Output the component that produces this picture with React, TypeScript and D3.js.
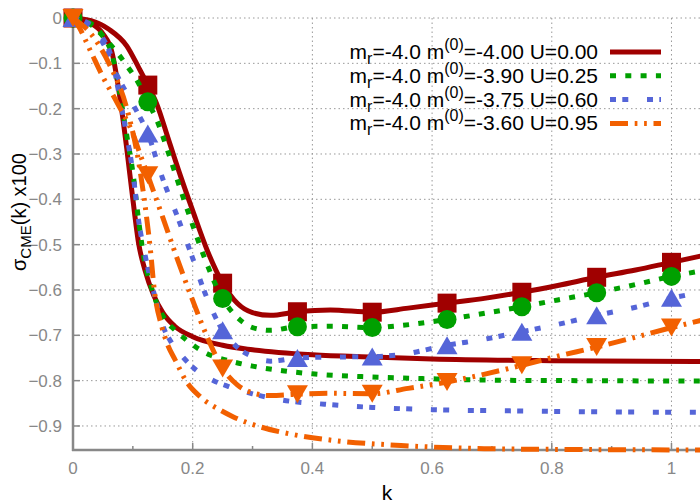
import React, { useRef, useEffect } from "react";
import * as d3 from "d3";

// marker positions (k) and values of sigma_CME x100
const markerK = [0, 0.125, 0.25, 0.375, 0.5, 0.625, 0.75, 0.875, 1.0];
const redMarks = [0, -0.148, -0.585, -0.648, -0.649, -0.629, -0.605, -0.572, -0.539];
const greenMarks = [0, -0.185, -0.619, -0.681, -0.683, -0.665, -0.637, -0.606, -0.57];
const blueMarks = [0, -0.255, -0.689, -0.75, -0.747, -0.722, -0.692, -0.656, -0.617];
const orangeMarks = [0, -0.347, -0.773, -0.83, -0.829, -0.803, -0.766, -0.726, -0.683];

// curves: [k, value]
const redUpper = [[0, 0], [0.03, -0.006], [0.06, -0.025], [0.09, -0.062], [0.11, -0.11], [0.125, -0.148], [0.14, -0.19], [0.16, -0.27], [0.18, -0.35], [0.2, -0.425], [0.225, -0.515], [0.25, -0.585], [0.275, -0.63], [0.3, -0.65], [0.33, -0.656], [0.375, -0.648], [0.43, -0.644], [0.5, -0.649], [0.56, -0.64], [0.625, -0.629], [0.69, -0.618], [0.75, -0.605], [0.81, -0.59], [0.875, -0.572], [0.94, -0.556], [1.0, -0.539], [1.05, -0.525]];
const redLower = [[0, 0], [0.03, -0.012], [0.05, -0.035], [0.065, -0.075], [0.08, -0.19], [0.09, -0.29], [0.1, -0.4], [0.11, -0.5], [0.12, -0.555], [0.135, -0.612], [0.15, -0.65], [0.17, -0.68], [0.2, -0.703], [0.25, -0.722], [0.3, -0.732], [0.4, -0.743], [0.5, -0.748], [0.6, -0.752], [0.8, -0.756], [1.05, -0.758]];
const greenUpper = [[0, 0], [0.03, -0.015], [0.06, -0.055], [0.09, -0.105], [0.11, -0.145], [0.125, -0.185], [0.14, -0.225], [0.16, -0.3], [0.18, -0.38], [0.2, -0.457], [0.22, -0.53], [0.25, -0.619], [0.28, -0.667], [0.3, -0.683], [0.33, -0.689], [0.375, -0.681], [0.43, -0.68], [0.5, -0.683], [0.55, -0.678], [0.625, -0.665], [0.69, -0.651], [0.75, -0.637], [0.81, -0.622], [0.875, -0.606], [0.94, -0.588], [1.0, -0.57], [1.05, -0.558]];
const greenLower = [[0, 0], [0.03, -0.012], [0.05, -0.04], [0.065, -0.08], [0.08, -0.18], [0.09, -0.26], [0.1, -0.34], [0.11, -0.45], [0.12, -0.54], [0.13, -0.59], [0.14, -0.63], [0.155, -0.667], [0.17, -0.688], [0.19, -0.711], [0.21, -0.73], [0.23, -0.744], [0.26, -0.756], [0.3, -0.768], [0.35, -0.778], [0.4, -0.785], [0.5, -0.792], [0.6, -0.796], [0.7, -0.799], [0.85, -0.8], [1.05, -0.801]];
const blueUpper = [[0, 0], [0.03, -0.02], [0.05, -0.055], [0.075, -0.13], [0.1, -0.19], [0.125, -0.255], [0.15, -0.355], [0.175, -0.44], [0.2, -0.53], [0.22, -0.605], [0.25, -0.689], [0.275, -0.727], [0.3, -0.747], [0.33, -0.757], [0.375, -0.75], [0.43, -0.748], [0.5, -0.747], [0.55, -0.742], [0.625, -0.722], [0.69, -0.708], [0.75, -0.692], [0.81, -0.676], [0.875, -0.656], [0.94, -0.638], [1.0, -0.618], [1.05, -0.605]];
const blueLower = [[0, 0], [0.03, -0.015], [0.05, -0.045], [0.065, -0.09], [0.08, -0.19], [0.09, -0.26], [0.1, -0.34], [0.11, -0.45], [0.12, -0.52], [0.13, -0.58], [0.14, -0.63], [0.15, -0.678], [0.165, -0.717], [0.185, -0.75], [0.2, -0.77], [0.235, -0.8], [0.26, -0.813], [0.3, -0.829], [0.35, -0.843], [0.42, -0.852], [0.5, -0.859], [0.6, -0.864], [0.75, -0.867], [0.9, -0.869], [1.05, -0.87]];
const orangeUpper = [[0, 0], [0.01, -0.02], [0.03, -0.075], [0.05, -0.13], [0.075, -0.19], [0.1, -0.255], [0.112, -0.3], [0.125, -0.347], [0.15, -0.44], [0.175, -0.534], [0.2, -0.623], [0.225, -0.706], [0.25, -0.773], [0.275, -0.81], [0.3, -0.827], [0.33, -0.833], [0.375, -0.83], [0.43, -0.828], [0.5, -0.829], [0.56, -0.817], [0.625, -0.803], [0.69, -0.785], [0.75, -0.766], [0.81, -0.746], [0.875, -0.726], [0.94, -0.704], [1.0, -0.683], [1.05, -0.667]];
const orangeLower = [[0, 0], [0.03, -0.035], [0.06, -0.1], [0.09, -0.2], [0.11, -0.32], [0.123, -0.44], [0.13, -0.52], [0.135, -0.59], [0.149, -0.684], [0.157, -0.717], [0.171, -0.755], [0.19, -0.803], [0.213, -0.836], [0.246, -0.865], [0.268, -0.88], [0.313, -0.902], [0.353, -0.915], [0.436, -0.932], [0.548, -0.943], [0.687, -0.95], [0.85, -0.952], [1.05, -0.953]];

const mrLabel = "-4.0";
const m0Labels = ["-4.00", "-3.90", "-3.75", "-3.60"];
const uLabels = ["0.00", "0.25", "0.60", "0.95"];

const xTicks = [0, 0.2, 0.4, 0.6, 0.8, 1];
const xMinor = [0.1, 0.3, 0.5, 0.7, 0.9];
const yTicks = [0, -0.1, -0.2, -0.3, -0.4, -0.5, -0.6, -0.7, -0.8, -0.9];

const series = [
  { color: "#a00000", dash: null, marker: "square", marks: redMarks, curves: [redUpper, redLower] },
  { color: "#00a000", dash: "6,9.3", marker: "circle", marks: greenMarks, curves: [greenUpper, greenLower] },
  { color: "#5565d8", dash: "6,6.3,6,18.7", marker: "up", marks: blueMarks, curves: [blueUpper, blueLower] },
  { color: "#f26000", dash: "18,6.7,2.7,6.7,2.7,6.7", marker: "down", marks: orangeMarks, curves: [orangeUpper, orangeLower] },
];

const App = () => {
  const ref = useRef(null);

  useEffect(() => {
    const svg = d3.select(ref.current);
    svg.selectAll("*").remove();

    const x = d3.scaleLinear().domain([0, 1.05]).range([73, 701.4]);
    const y = d3.scaleLinear().domain([-0.953, 0]).range([450, 18]);
    const font = "'Liberation Sans', Arial, sans-serif";

    // grid
    const grid = svg.append("g").attr("stroke", "#999").attr("stroke-width", 1).attr("stroke-dasharray", "1.5,3");
    xTicks.filter(d => d > 0).forEach(d => {
      grid.append("line").attr("x1", x(d)).attr("x2", x(d)).attr("y1", y(0)).attr("y2", 450);
    });
    yTicks.forEach(d => {
      grid.append("line").attr("x1", 73).attr("x2", 700).attr("y1", y(d)).attr("y2", y(d));
    });

    // axes
    const ax = svg.append("g").attr("stroke", "#888");
    ax.append("line").attr("x1", 73).attr("x2", 73).attr("y1", y(0)).attr("y2", 451).attr("stroke-width", 2.5);
    ax.append("line").attr("x1", 72).attr("x2", 700).attr("y1", 450).attr("y2", 450).attr("stroke-width", 2.5);
    yTicks.forEach(d => {
      ax.append("line").attr("x1", 73).attr("x2", 80).attr("y1", y(d)).attr("y2", y(d)).attr("stroke-width", 1.5);
    });
    xTicks.forEach(d => {
      ax.append("line").attr("x1", x(d)).attr("x2", x(d)).attr("y1", 450).attr("y2", 443).attr("stroke-width", 1.5);
    });
    xMinor.forEach(d => {
      ax.append("line").attr("x1", x(d)).attr("x2", x(d)).attr("y1", 450).attr("y2", 446).attr("stroke-width", 1.5);
    });

    svg.append("g").selectAll("text").data(yTicks).enter().append("text")
      .attr("x", 62).attr("y", d => y(d)).attr("dy", "0.35em")
      .attr("text-anchor", "end").attr("fill", "#888")
      .attr("font-family", font).attr("font-size", 17)
      .text(d => d === 0 ? "0" : d3.format(".1f")(d));

    svg.append("g").selectAll("text").data(xTicks).enter().append("text")
      .attr("x", d => x(d)).attr("y", 474)
      .attr("text-anchor", "middle").attr("fill", "#888")
      .attr("font-family", font).attr("font-size", 17)
      .text(d => d === 0 || d === 1 ? String(d) : d3.format(".1f")(d));

    // axis titles
    svg.append("text").attr("x", 387).attr("y", 500).attr("text-anchor", "middle")
      .attr("font-family", font).attr("font-size", 21).text("k");

    const yl = svg.append("text").attr("transform", "translate(26,212) rotate(-90)")
      .attr("text-anchor", "middle").attr("font-family", font).attr("font-size", 20);
    yl.append("tspan").text("σ");
    yl.append("tspan").attr("dy", 5).attr("font-size", 15).text("CME");
    yl.append("tspan").attr("dy", -5).text("(k) x100");

    // curves and markers
    const line = d3.line().x(d => x(d[0])).y(d => y(d[1])).curve(d3.curveMonotoneX);
    const symbol = (type, cx, cy) => {
      if (type === "square") return `M${cx - 9.5},${cy - 9.5}h19v19h-19Z`;
      if (type === "up") return `M${cx},${cy - 9}L${cx + 10.5},${cy + 9}L${cx - 10.5},${cy + 9}Z`;
      if (type === "down") return `M${cx},${cy + 9}L${cx + 10.5},${cy - 9}L${cx - 10.5},${cy - 9}Z`;
      return null;
    };

    series.forEach(s => {
      const g = svg.append("g");
      s.curves.forEach(c => {
        g.append("path").attr("d", line(c)).attr("fill", "none")
          .attr("stroke", s.color).attr("stroke-width", 5)
          .attr("stroke-dasharray", s.dash).attr("stroke-linecap", "butt");
      });
      s.marks.forEach((v, i) => {
        if (s.marker === "circle") {
          g.append("circle").attr("cx", x(markerK[i])).attr("cy", y(v)).attr("r", 9.5).attr("fill", s.color);
        } else {
          g.append("path").attr("d", symbol(s.marker, x(markerK[i]), y(v))).attr("fill", s.color);
        }
      });
    });

    // legend
    const leg = svg.append("g").attr("font-family", font).attr("font-size", 21);
    series.forEach((s, i) => {
      const ly = 52 + i * 23.8;
      const t = leg.append("text").attr("x", 598).attr("y", ly + 7).attr("text-anchor", "end");
      t.append("tspan").text("m");
      t.append("tspan").attr("dy", 5).attr("font-size", 16).text("r");
      t.append("tspan").attr("dy", -5).text(`=${mrLabel} m`);
      t.append("tspan").attr("dy", -9).attr("font-size", 16).text("(0)");
      t.append("tspan").attr("dy", 9).text(`=${m0Labels[i]} U=${uLabels[i]}`);
      leg.append("line").attr("x1", 610).attr("x2", 661).attr("y1", ly).attr("y2", ly)
        .attr("stroke", s.color).attr("stroke-width", 5).attr("stroke-dasharray", s.dash);
    });
  });

  return (
    <div>
      <svg ref={ref} width={700} height={504} style={{ position: "absolute", left: 0, top: 0, background: "#fff" }}></svg>
    </div>
  );
};

export default App;
